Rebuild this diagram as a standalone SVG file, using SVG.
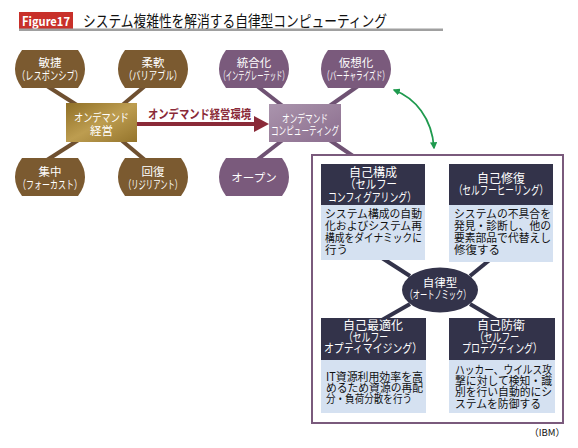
<svg xmlns="http://www.w3.org/2000/svg" width="578" height="448" viewBox="0 0 578 448">
<style>
text{font-family:"Noto Sans CJK JP","Noto Sans",sans-serif;}
.w{fill:#fff;font-size:11.5px;text-anchor:middle;}
.wh{fill:#fff;font-size:12px;text-anchor:middle;}
.b{fill:#111;font-size:11.5px;}
.brn{fill:#7b5a30;}
.pur{fill:#7a5a7c;}
.lb{stroke:#6f5030;stroke-width:4;}
.lp{stroke:#6f5273;stroke-width:4;}
.ld{stroke:#33334a;stroke-width:4;}
.hd{fill:#33334a;}
.bd{fill:#d5e1f1;}
</style>
<defs>
<path id="barrel" d="M8,0 H64 Q78,19 64,38 H8 Q-6,19 8,0 Z"/>
<linearGradient id="gold" x1="0" y1="0" x2="1" y2="1">
<stop offset="0" stop-color="#8f6f26"/>
<stop offset="0.5" stop-color="#bd9d50"/>
<stop offset="1" stop-color="#94742c"/>
</linearGradient>
<linearGradient id="lpur" x1="0" y1="0" x2="1" y2="1">
<stop offset="0" stop-color="#aa94ad"/>
<stop offset="0.5" stop-color="#9b819d"/>
<stop offset="1" stop-color="#8a6c8e"/>
</linearGradient>
<marker id="ga" viewBox="0 0 10 10" refX="8" refY="5" markerWidth="4" markerHeight="4" orient="auto-start-reverse">
<path d="M0,0 L10,5 L0,10 Z" fill="#1f9a4e"/>
</marker>
</defs>
<rect width="578" height="448" fill="#fff"/>

<g id="title">
<rect x="19" y="12" width="54" height="17" fill="#c8302a"/>
<text x="46" y="25.5" fill="#fff" font-size="12.5" font-weight="bold" text-anchor="middle" textLength="48" lengthAdjust="spacingAndGlyphs">Figure17</text>
<text x="83" y="26.5" fill="#111" font-size="15.5" textLength="304" lengthAdjust="spacingAndGlyphs">システム複雑性を解消する自律型コンピューティング</text>
<rect x="19" y="28.5" width="424" height="2.5" fill="#a0a0a0"/>
</g>

<g id="connectors">
<line class="lb" x1="47" y1="86" x2="80" y2="107"/>
<line class="lb" x1="145" y1="86" x2="120" y2="107"/>
<line class="lb" x1="47" y1="160" x2="80" y2="139"/>
<line class="lb" x1="145" y1="160" x2="120" y2="139"/>
<line class="lp" x1="257" y1="86" x2="284" y2="107"/>
<line class="lp" x1="358" y1="86" x2="328" y2="107"/>
<line class="lp" x1="257" y1="160" x2="284" y2="139"/>
<line class="lp" x1="328" y1="139" x2="353" y2="156"/>
<line x1="137" y1="124" x2="256" y2="124" stroke="#8a2a38" stroke-width="4"/>
<path d="M254,116 L269,124 L254,132 Z" fill="#8a2a38"/>
<text x="148" y="118.5" fill="#8a2a38" font-size="12.5" font-weight="bold" textLength="103" lengthAdjust="spacingAndGlyphs">オンデマンド経営環境</text>
<path d="M394,90 C415,98 432,118 434,148" fill="none" stroke="#1f9a4e" stroke-width="1.8" marker-start="url(#ga)" marker-end="url(#ga)"/>
</g>

<g id="n-binsho">
<use href="#barrel" x="14" y="50" class="brn"/>
<text class="w"><tspan x="50" y="67">敏捷</tspan><tspan x="50" y="80" textLength="66" lengthAdjust="spacingAndGlyphs">（レスポンシブ）</tspan></text>
</g>
<g id="n-junan">
<use href="#barrel" x="117" y="50" class="brn"/>
<text class="w"><tspan x="153" y="67">柔軟</tspan><tspan x="153" y="80" textLength="58" lengthAdjust="spacingAndGlyphs">（バリアブル）</tspan></text>
</g>
<g id="n-shuchu">
<use href="#barrel" x="14" y="158" class="brn"/>
<text class="w"><tspan x="50" y="176">集中</tspan><tspan x="50" y="188.5" textLength="64" lengthAdjust="spacingAndGlyphs">（フォーカスト）</tspan></text>
</g>
<g id="n-kaifuku">
<use href="#barrel" x="117" y="158" class="brn"/>
<text class="w"><tspan x="153" y="176">回復</tspan><tspan x="153" y="188.5" textLength="58" lengthAdjust="spacingAndGlyphs">（リジリアント）</tspan></text>
</g>
<g id="n-ondemand-keiei">
<rect x="66" y="103" width="71" height="39" fill="url(#gold)"/>
<text class="w"><tspan x="101.5" y="122" textLength="55" lengthAdjust="spacingAndGlyphs">オンデマンド</tspan><tspan x="101.5" y="135">経営</tspan></text>
</g>

<g id="n-togo">
<use href="#barrel" x="218" y="50" class="pur"/>
<text class="w"><tspan x="254" y="67">統合化</tspan><tspan x="254" y="80" textLength="69" lengthAdjust="spacingAndGlyphs">（インテグレーテッド）</tspan></text>
</g>
<g id="n-kaso">
<use href="#barrel" x="320" y="50" class="pur"/>
<text class="w"><tspan x="356" y="67">仮想化</tspan><tspan x="356" y="80" textLength="66" lengthAdjust="spacingAndGlyphs">（バーチャライズド）</tspan></text>
</g>
<g id="n-open">
<use href="#barrel" x="218" y="158" class="pur"/>
<text class="w" x="254" y="182">オープン</text>
</g>
<g id="n-ondemand-computing">
<rect x="269" y="104" width="72" height="38" fill="url(#lpur)"/>
<text class="w"><tspan x="305" y="122.5" textLength="46" lengthAdjust="spacingAndGlyphs">オンデマンド</tspan><tspan x="305" y="135" textLength="68" lengthAdjust="spacingAndGlyphs">コンピューティング</tspan></text>
</g>

<g id="autonomic-frame">
<rect x="312" y="155" width="251" height="268" fill="#fff" stroke="#7a5a7c" stroke-width="2"/>
</g>

<g id="autonomic-connectors">
<line class="ld" x1="382" y1="258" x2="410" y2="276"/>
<line class="ld" x1="492" y1="258" x2="470" y2="276"/>
<line class="ld" x1="382" y1="320" x2="410" y2="304"/>
<line class="ld" x1="497" y1="320" x2="470" y2="304"/>
</g>

<g id="n-jiko-kosei">
<rect class="hd" x="321" y="164" width="104" height="41"/>
<rect class="bd" x="321" y="205" width="104" height="55"/>
<text class="wh"><tspan x="373" y="176.5">自己構成</tspan><tspan x="371" y="189" textLength="52" lengthAdjust="spacingAndGlyphs">（セルフー</tspan><tspan x="372" y="201.5" textLength="88" lengthAdjust="spacingAndGlyphs">コンフィグアリング）</tspan></text>
<text class="b"><tspan x="325" y="217.5" textLength="97" lengthAdjust="spacingAndGlyphs">システム構成の自動</tspan><tspan x="325" y="229.5" textLength="97" lengthAdjust="spacingAndGlyphs">化およびシステム再</tspan><tspan x="325" y="241.5" textLength="97" lengthAdjust="spacingAndGlyphs">構成をダイナミックに</tspan><tspan x="325" y="253.5">行う</tspan></text>
</g>
<g id="n-jiko-shufuku">
<rect class="hd" x="449" y="164" width="104" height="41"/>
<rect class="bd" x="449" y="205" width="104" height="57"/>
<text class="wh"><tspan x="501" y="182.5">自己修復</tspan><tspan x="501" y="194.5" textLength="94" lengthAdjust="spacingAndGlyphs">（セルフーヒーリング）</tspan></text>
<text class="b"><tspan x="454" y="217.5" textLength="97" lengthAdjust="spacingAndGlyphs">システムの不具合を</tspan><tspan x="454" y="229.5" textLength="97" lengthAdjust="spacingAndGlyphs">発見・診断し、他の</tspan><tspan x="454" y="241.5" textLength="97" lengthAdjust="spacingAndGlyphs">要素部品で代替えし</tspan><tspan x="454" y="253.5">修復する</tspan></text>
</g>
<g id="n-jiritsu">
<ellipse cx="440" cy="290" rx="38" ry="22.5" fill="#33334a"/>
<text class="w"><tspan x="440" y="287">自律型</tspan><tspan x="438" y="299" textLength="65" lengthAdjust="spacingAndGlyphs">（オートノミック）</tspan></text>
</g>
<g id="n-jiko-saitekika">
<rect class="hd" x="321" y="318" width="105" height="42"/>
<rect class="bd" x="321" y="360" width="105" height="53"/>
<text class="wh"><tspan x="373" y="329.5">自己最適化</tspan><tspan x="366" y="341.5" textLength="44" lengthAdjust="spacingAndGlyphs">（セルフー</tspan><tspan x="373" y="353" textLength="98" lengthAdjust="spacingAndGlyphs">オプティマイジング）</tspan></text>
<text class="b"><tspan x="326" y="381" textLength="97" lengthAdjust="spacingAndGlyphs">IT資源利用効率を高</tspan><tspan x="326" y="392" textLength="97" lengthAdjust="spacingAndGlyphs">めるため資源の再配</tspan><tspan x="326" y="403" textLength="86" lengthAdjust="spacingAndGlyphs">分・負荷分散を行う</tspan></text>
</g>
<g id="n-jiko-boei">
<rect class="hd" x="449" y="318" width="106" height="42"/>
<rect class="bd" x="449" y="360" width="106" height="53"/>
<text class="wh"><tspan x="501" y="329.5">自己防衛</tspan><tspan x="497" y="341.5" textLength="44" lengthAdjust="spacingAndGlyphs">（セルフー</tspan><tspan x="502" y="353" textLength="80" lengthAdjust="spacingAndGlyphs">プロテクティング）</tspan></text>
<text class="b"><tspan x="455" y="374" textLength="97" lengthAdjust="spacingAndGlyphs">ハッカー、ウイルス攻</tspan><tspan x="455" y="385" textLength="97" lengthAdjust="spacingAndGlyphs">撃に対して検知・識</tspan><tspan x="455" y="396" textLength="97" lengthAdjust="spacingAndGlyphs">別を行い自動的にシ</tspan><tspan x="455" y="408" textLength="86" lengthAdjust="spacingAndGlyphs">ステムを防御する</tspan></text>
</g>

<text x="565" y="436" fill="#111" font-size="9.5" text-anchor="end" font-family="Liberation Sans, sans-serif">（IBM）</text>
</svg>
